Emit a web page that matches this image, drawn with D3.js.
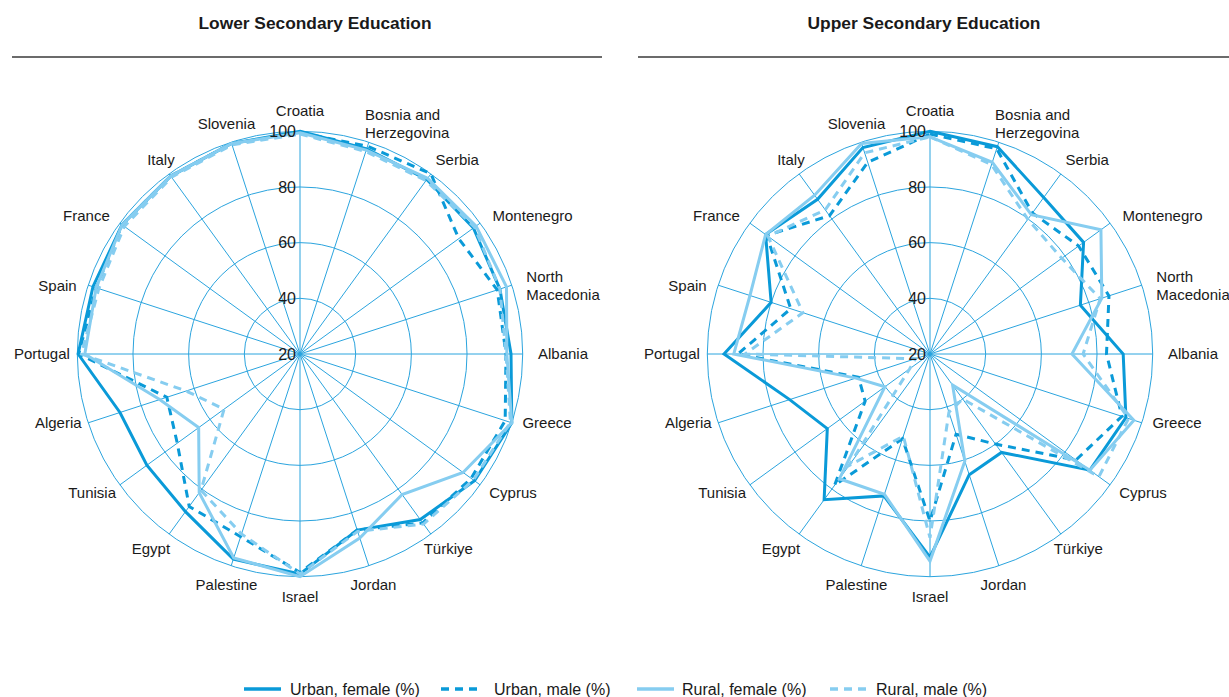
<!DOCTYPE html>
<html>
<head>
<meta charset="utf-8">
<script src="https://cdn.jsdelivr.net/npm/d3@7"></script>
<style>
  body { margin: 0; background: #fff; }
  svg text { font-family: "Liberation Sans", Arial, Helvetica, sans-serif; fill: #1a1a1a; }
</style>
</head>
<body>
<svg id="chart" width="1229" height="697"></svg>
<script>
// ---------- data ----------
const categories = ["Croatia", "Bosnia and Herzegovina", "Serbia", "Montenegro", "North Macedonia",
  "Albania", "Greece", "Cyprus", "Türkiye", "Jordan", "Israel", "Palestine", "Egypt", "Tunisia",
  "Algeria", "Portugal", "Spain", "France", "Italy", "Slovenia"];
const categoryLabelLines = [["Croatia"], ["Bosnia and", "Herzegovina"], ["Serbia"], ["Montenegro"],
  ["North", "Macedonia"], ["Albania"], ["Greece"], ["Cyprus"], ["Türkiye"], ["Jordan"], ["Israel"],
  ["Palestine"], ["Egypt"], ["Tunisia"], ["Algeria"], ["Portugal"], ["Spain"], ["France"], ["Italy"], ["Slovenia"]];
const tickValues = [20, 40, 60, 80, 100];
const seriesNames = ["Urban, female (%)", "Urban, male (%)", "Rural, female (%)", "Rural, male (%)"];
const panelTitles = ["Lower Secondary Education", "Upper Secondary Education"];

// Lower secondary education
const lowerUrbanFemale = [100, 97.5, 97.5, 97, 95.5, 95.8, 100, 97.5, 93.5, 86.5, 99, 97.5, 90, 88, 88, 99.7, 98.2, 99, 99, 99.5];
const lowerUrbanMale   = [99.5, 98.5, 100, 90.5, 94.5, 94, 97.5, 96, 95, 86.5, 98.5, 89, 87.7, 74.5, 70.3, 99.5, 97, 99, 99, 99.5];
const lowerRuralFemale = [99.5, 97, 98, 98.2, 98, 94.3, 100, 92.4, 82.4, 89.5, 100, 97, 81.6, 65, 73, 97.3, 97, 99, 99, 99.5];
const lowerRuralMale   = [99, 96.5, 97, 97.5, 95.5, 94, 99.5, 97, 95.5, 87, 99, 88, 80.5, 53.7, 63, 98.5, 96, 98, 98.5, 99];

// Upper secondary education
const upperUrbanFemale = [100, 98.3, 89.5, 88.2, 76.8, 89.4, 94, 91, 63.7, 65.6, 93, 73.6, 84.7, 65.6, 73, 94, 80, 93, 88.7, 98];
const upperUrbanMale   = [99, 97.5, 82.6, 86, 87.6, 83.4, 92.5, 84.8, 60, 50.3, 80, 52, 78.3, 48.8, 47, 89, 72.6, 92.5, 81.4, 92.4];
const upperRuralFemale = [98, 92.4, 81.9, 95.9, 84.9, 71, 97, 91, 33.8, 60.5, 94.4, 73, 75.4, 40, 48, 90.5, 88, 93, 90.5, 99.5];
const upperRuralMale   = [98, 91.5, 79.8, 78.5, 84.3, 75, 95, 95, 40, 42, 86, 51, 69.6, 29, 25.5, 86.5, 68, 92, 84, 96];

// ---------- layout / style ----------
const darkBlue = "#0a9ad8";
const lightBlue = "#86cdf0";
const gridColor = "#2ba4de";
const seriesStyles = [
  { color: darkBlue, dash: null },
  { color: darkBlue, dash: "8,6" },
  { color: lightBlue, dash: null },
  { color: lightBlue, dash: "8,6" }
];
// fraction of label width placed left of its anchor point (0 = start, 0.5 = middle, 1 = end)
const labelAnchorFraction = [0.5, 0.1, 0.1, 0, 0, 0, 0.08, 0.07, 0.33, 0.5, 0.5, 0.5, 0.74, 0.82, 0.83, 0.86, 0.92, 0.95, 0.47, 0.5];

const panels = [
  { cx: 300, cy: 354, titleX: 315, rule: [12, 602],
    series: [lowerUrbanFemale, lowerUrbanMale, lowerRuralFemale, lowerRuralMale] },
  { cx: 930, cy: 354, titleX: 924, rule: [638, 1229],
    series: [upperUrbanFemale, upperUrbanMale, upperRuralFemale, upperRuralMale] }
];

const R = 222.7;
const rScale = d3.scaleLinear().domain([20, 100]).range([0, R]);
const angleScale = d3.scaleLinear().domain([0, categories.length]).range([0, 2 * Math.PI]);

const svg = d3.select("#chart");

panels.forEach((p, pi) => {
  // title and rule
  svg.append("text")
    .attr("x", p.titleX).attr("y", 29)
    .attr("text-anchor", "middle")
    .attr("textLength", 233).attr("lengthAdjust", "spacingAndGlyphs")
    .style("font-family", "'Liberation Sans Narrow', 'Liberation Sans', Arial, sans-serif")
    .style("font-weight", "bold").style("font-size", "16px")
    .text(panelTitles[pi]);
  svg.append("line")
    .attr("x1", p.rule[0]).attr("x2", p.rule[1]).attr("y1", 57).attr("y2", 57)
    .attr("stroke", "#3a3a3a").attr("stroke-width", 1.3);

  const g = svg.append("g").attr("transform", `translate(${p.cx},${p.cy})`);

  // rings
  g.selectAll("circle.ring").data(tickValues.filter(v => v > 20)).enter()
    .append("circle").attr("class", "ring")
    .attr("r", d => rScale(d))
    .attr("fill", "none").attr("stroke", gridColor).attr("stroke-width", 1);

  // spokes
  g.selectAll("line.spoke").data(categories).enter()
    .append("line").attr("class", "spoke")
    .attr("x1", 0).attr("y1", 0)
    .attr("x2", (d, i) => R * Math.sin(angleScale(i)))
    .attr("y2", (d, i) => -R * Math.cos(angleScale(i)))
    .attr("stroke", gridColor).attr("stroke-width", 1);

  // series
  const radial = d3.lineRadial()
    .angle((d, i) => angleScale(i))
    .radius(d => rScale(d))
    .curve(d3.curveLinearClosed);
  p.series.forEach((vals, si) => {
    g.append("path")
      .attr("d", radial(vals))
      .attr("fill", "none")
      .attr("stroke", seriesStyles[si].color)
      .attr("stroke-width", 3)
      .attr("stroke-linejoin", "miter")
      .attr("stroke-dasharray", seriesStyles[si].dash);
  });

  // tick labels
  g.selectAll("text.tick").data(tickValues).enter()
    .append("text").attr("class", "tick")
    .attr("x", -4).attr("y", d => -rScale(d))
    .attr("dy", "0.36em")
    .attr("text-anchor", "end")
    .style("font-size", "16px")
    .text(d => d);

  // category labels
  categories.forEach((c, i) => {
    const a = angleScale(i);
    const s = Math.sin(a), co = Math.cos(a);
    const sg = Math.abs(co) < 1e-6 ? 0 : Math.sign(co);
    const px = 238 * s;
    const py = -243 * co + 10 * (1 - Math.abs(co)) * sg;
    const lines = categoryLabelLines[i];
    const lh = 18;
    const t = g.append("text").style("font-size", "15px").attr("text-anchor", "start");
    lines.forEach((ln, li) => {
      t.append("tspan")
        .attr("y", py + (li - (lines.length - 1) / 2) * lh)
        .attr("dy", "0.36em")
        .text(ln);
    });
    let w = 0;
    t.selectAll("tspan").each(function () { w = Math.max(w, this.getComputedTextLength()); });
    const x0 = px - w * labelAnchorFraction[i];
    t.selectAll("tspan").attr("x", x0);
  });
});

// legend
const legendLineStarts = [244, 441, 637, 830];
const legendTextStarts = [290, 494, 682, 876];
const legendY = 689;
seriesNames.forEach((name, i) => {
  svg.append("line")
    .attr("x1", legendLineStarts[i]).attr("x2", legendLineStarts[i] + 37)
    .attr("y1", legendY).attr("y2", legendY)
    .attr("stroke", seriesStyles[i].color).attr("stroke-width", 3.5)
    .attr("stroke-dasharray", seriesStyles[i].dash);
  svg.append("text")
    .attr("x", legendTextStarts[i]).attr("y", legendY)
    .attr("dy", "0.36em")
    .style("font-size", "16px")
    .text(name);
});
</script>
</body>
</html>
